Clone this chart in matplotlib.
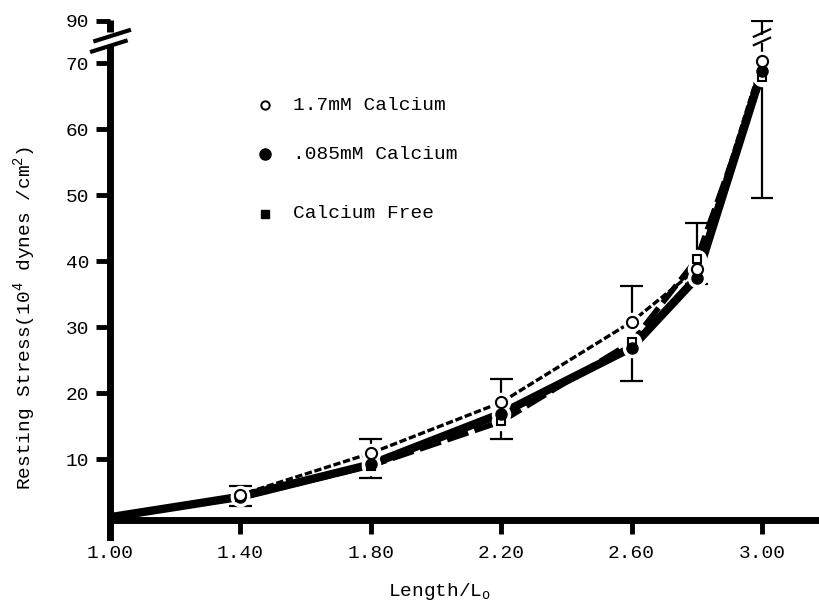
import numpy as np
import matplotlib
matplotlib.use("Agg")
import matplotlib.pyplot as plt

plt.rcParams['font.family'] = ['Liberation Mono', 'DejaVu Sans']
plt.rcParams['mathtext.fontset'] = 'custom'
plt.rcParams['mathtext.rm'] = 'Liberation Mono'
plt.rcParams['mathtext.it'] = 'Liberation Mono'

# length / Lo
length = [1.00, 1.40, 1.80, 2.20, 2.60, 2.80, 3.00]
# resting stress (10^4 dynes/cm^2)
ca_17 = [1.2, 4.6, 10.9, 18.6, 30.8, 38.8, 71.0]
ca_085 = [1.2, 4.3, 9.2, 16.9, 26.9, 37.5, 68.8]
ca_free = [1.2, 4.2, 9.0, 15.7, 27.7, 40.3, 67.9]

err_x = [1.40, 1.80, 2.20, 2.60, 2.80, 3.00]
err_hi = [5.9, 13.1, 22.1, 36.3, 45.8, 90.0]
err_lo = [2.9, 7.2, 13.0, 21.9, 36.6, 49.6]

labels = ["1.7mM Calcium", ".085mM Calcium", "Calcium Free"]
xticks = [1.00, 1.40, 1.80, 2.20, 2.60, 3.00]
yticks = [10, 20, 30, 40, 50, 60, 70, 90]

BRK = 70.0
K = 0.32


def fwd(y):
    y = np.asarray(y, dtype=float)
    return np.where(y <= BRK, y, BRK + (y - BRK) * K)


def inv(y):
    y = np.asarray(y, dtype=float)
    return np.where(y <= BRK, y, BRK + (y - BRK) / K)


fig = plt.figure(figsize=(8.19, 6.04), dpi=100)
ax = fig.add_axes([110 / 819, 1 - 537 / 604, 709 / 819, 517 / 604])
ax.set_yscale('function', functions=(fwd, inv))
ax.set_xlim(1.0, 1.0 + 709 / 326)
ax.set_ylim(-1.8, 90.4)

x = np.array(length)
ax.plot(x, ca_17, color='black', lw=2.4, dashes=(2.2, 0.8), zorder=3)
ax.plot(x, ca_085, color='black', lw=6, solid_capstyle='butt', zorder=3)
ax.plot(x, ca_free, color='black', lw=4, dashes=(4, 1.2), zorder=3)

# error bars: upper from highest point, lower from lowest point
pts = np.array([ca_17, ca_085, ca_free])[:, 1:]
top_base = pts.max(axis=0)
bot_base = pts.min(axis=0)
ax.vlines(err_x, top_base, err_hi, color='black', lw=1.6, zorder=2)
ax.vlines(err_x, err_lo, bot_base, color='black', lw=1.6, zorder=2)
ax.hlines(err_hi, np.array(err_x) - 0.035, np.array(err_x) + 0.035, color='black', lw=1.6)
ax.hlines(err_lo, np.array(err_x) - 0.035, np.array(err_x) + 0.035, color='black', lw=1.6)

# white halos around markers -> gaps in the lines
for ys in (ca_17, ca_085, ca_free):
    ax.plot(x[1:], ys[1:], 'o', ms=13, color='white', zorder=4)
ax.plot(x[1:], ca_free[1:], 's', ms=6, mfc='white', mec='black', mew=1.5, zorder=5)
ax.plot(x[1:], ca_085[1:], 'o', ms=8, color='black', zorder=6)
ax.plot(x[1:], ca_17[1:], 'o', ms=8, mfc='white', mec='black', mew=1.5, zorder=7)

# break marks on the 3.00 error bar
ax.vlines(3.0, 79.5, 83.5, color='white', lw=4, zorder=8)
for yb in (78.5, 82.5):
    ax.plot([2.975, 3.025], [yb, yb + 3.5], color='black', lw=1.6, zorder=9)

# axes styling
for s in ('top', 'right'):
    ax.spines[s].set_visible(False)
ax.spines['left'].set_linewidth(5)
ax.spines['bottom'].set_linewidth(5)
ax.spines['bottom'].set_position(('data', 0.75))
ax.spines['left'].set_bounds(-1.8, 77.0)
ax.plot([1.0, 1.0], [84.5, 90.4], color='black', lw=5, clip_on=False, solid_capstyle='butt')
ax.plot([0.945, 1.048], [75.5, 80.5], color='black', lw=3, clip_on=False)
ax.plot([0.955, 1.058], [80.5, 85.5], color='black', lw=3, clip_on=False)

ax.set_xticks(xticks)
ax.set_xticklabels([f"{v:.2f}" for v in xticks])
ax.set_yticks(yticks)
ax.set_yticklabels([str(v) for v in yticks])
ax.tick_params(axis='both', direction='out', length=10, width=3.5, labelsize=14)
ax.tick_params(axis='x', pad=8)
ax.tick_params(axis='y', pad=5)

# legend
leg_y = [0.835, 0.74, 0.625]
styles = [dict(marker='o', ms=6, mfc='white', mec='black', mew=1.4),
          dict(marker='o', ms=8, color='black'),
          dict(marker='s', ms=6, color='black')]
for ly, lab, st in zip(leg_y, labels, styles):
    ax.plot([0.218], [ly], transform=ax.transAxes, linestyle='none', clip_on=False, **st)
    ax.text(0.258, ly, lab, transform=ax.transAxes, fontsize=14, va='center', ha='left')

fig.text(25 / 819, 1 - 318 / 604, r"Resting Stress(10$^4$ dynes /cm$^2$)",
         rotation=90, ha='center', va='center', fontsize=14)
fig.text(440 / 819, 1 - 592 / 604, r"Length/L$_\mathrm{o}$",
         ha='center', va='center', fontsize=14)

fig.savefig("out.png", dpi=100)
